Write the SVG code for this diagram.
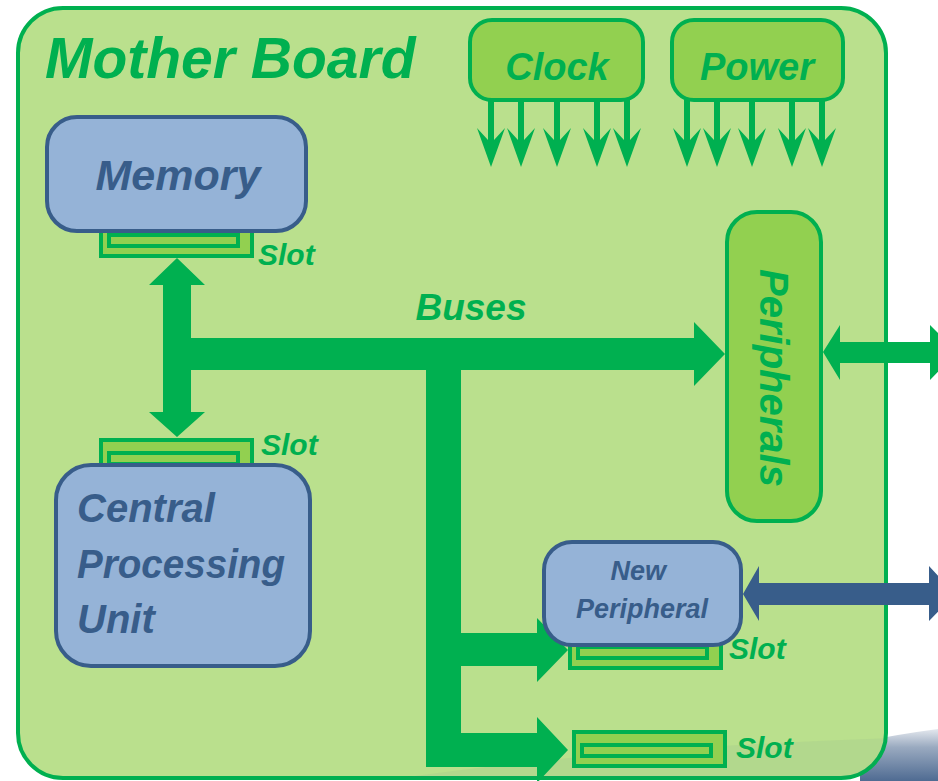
<svg xmlns="http://www.w3.org/2000/svg" width="938" height="781" viewBox="0 0 938 781">
  <defs>
    <style>
      .t { font-family: "Liberation Sans", Arial, sans-serif; font-weight: bold; font-style: italic; }
      .gtxt { fill: #00B050; }
      .btxt { fill: #385D8A; }
      .gbox { fill: #92D050; stroke: #00B050; stroke-width: 4; }
      .bbox { fill: #95B3D7; stroke: #385D8A; stroke-width: 4; }
      .slot { fill: #92D050; stroke: #00B050; stroke-width: 4; }
      .gcon { fill: #00B050; }
      .bcon { fill: #385D8A; }
    </style>
    <path id="dn" d="M0,167 L-14,128 L-3,140 L-3,100 L3,100 L3,140 L14,128 Z" fill="#00B050"/>
    <linearGradient id="shade" x1="0" y1="0" x2="0" y2="1">
      <stop offset="0" stop-color="#e4e8ee"/>
      <stop offset="0.35" stop-color="#9aaac0"/>
      <stop offset="1" stop-color="#4f6b92"/>
    </linearGradient>
    <clipPath id="boardclip">
      <rect x="18" y="8" width="868" height="770" rx="45" ry="45"/>
    </clipPath>
  </defs>

  <rect x="0" y="0" width="938" height="781" fill="#ffffff"/>
  <path d="M860,742 Q900,734 938,729 L938,781 L860,781 Z" fill="url(#shade)"/>

  <g id="motherboard">
    <rect x="18" y="8" width="868" height="770" rx="45" ry="45" fill="#BAE08D" stroke="#00B050" stroke-width="4"/>
    <path d="M380,781 Q600,748 890,738 L890,781 Z" fill="#5a7090" opacity="0.07" clip-path="url(#boardclip)"/>
    <text class="t gtxt" x="45" y="78" font-size="57">Mother Board</text>
  </g>

  <g id="connectors">
    <!-- memory <-> cpu -->
    <polygon class="gcon" points="177,258 205,285 191,285 191,412 205,412 177,437 149,412 163,412 163,285 149,285"/>
    <!-- main bus -->
    <polygon class="gcon" points="163,338 694,338 694,322 725,354 694,386 694,370 163,370"/>
    <rect class="gcon" x="426" y="338" width="35" height="429"/>
    <!-- branches -->
    <polygon class="gcon" points="461,633 537,633 537,618 568,650 537,682 537,666 461,666"/>
    <polygon class="gcon" points="461,733 537,733 537,717 568,750 537,783 537,767 461,767"/>
    <!-- peripherals external -->
    <polygon class="gcon" points="823,352 840,325 840,342 930,342 930,325 957,352 930,380 930,363 840,363 840,380"/>
    <!-- new peripheral external -->
    <polygon class="bcon" points="743,594 759,566 759,583 929,583 929,566 955,594 929,621 929,605 759,605 759,621"/>
    <!-- clock outputs -->
    <use href="#dn" x="491"/>
    <use href="#dn" x="521"/>
    <use href="#dn" x="557"/>
    <use href="#dn" x="597"/>
    <use href="#dn" x="627"/>
    <!-- power outputs -->
    <use href="#dn" x="687"/>
    <use href="#dn" x="717"/>
    <use href="#dn" x="752"/>
    <use href="#dn" x="792"/>
    <use href="#dn" x="822"/>
    <text class="t gtxt" x="471" y="320" font-size="37" text-anchor="middle">Buses</text>
  </g>

  <g id="clock">
    <rect class="gbox" x="470" y="20" width="173" height="80" rx="22" ry="22"/>
    <text class="t gtxt" x="557" y="80" font-size="38" text-anchor="middle">Clock</text>
  </g>

  <g id="power">
    <rect class="gbox" x="672" y="20" width="171" height="80" rx="22" ry="22"/>
    <text class="t gtxt" x="757" y="80" font-size="38" text-anchor="middle">Power</text>
  </g>

  <g id="memory-slot">
    <rect class="slot" x="101" y="222" width="151" height="34"/>
    <rect class="slot" x="109" y="235" width="129" height="11"/>
    <text class="t gtxt" x="258" y="265" font-size="30">Slot</text>
  </g>

  <g id="memory">
    <rect class="bbox" x="47" y="117" width="259" height="114" rx="30" ry="30"/>
    <text class="t btxt" x="178" y="190" font-size="43" text-anchor="middle">Memory</text>
  </g>

  <g id="cpu-slot">
    <rect class="slot" x="101" y="440" width="151" height="34"/>
    <rect class="slot" x="109" y="453" width="129" height="11"/>
    <text class="t gtxt" x="261" y="455" font-size="30">Slot</text>
  </g>

  <g id="cpu">
    <rect class="bbox" x="56" y="465" width="254" height="201" rx="35" ry="35"/>
    <text class="t btxt" font-size="40" x="77" y="522">Central</text>
    <text class="t btxt" font-size="40" x="77" y="578" textLength="208" lengthAdjust="spacingAndGlyphs">Processing</text>
    <text class="t btxt" font-size="40" x="77" y="633">Unit</text>
  </g>

  <g id="peripherals">
    <rect class="gbox" x="727" y="212" width="94" height="309" rx="30" ry="30"/>
    <text class="t gtxt" font-size="40" text-anchor="middle" transform="translate(760,378) rotate(90)">Peripherals</text>
  </g>

  <g id="new-peripheral-slot">
    <rect class="slot" x="570" y="634" width="151" height="34"/>
    <rect class="slot" x="578" y="647" width="129" height="11"/>
    <text class="t gtxt" x="729" y="659" font-size="30">Slot</text>
  </g>

  <g id="new-peripheral">
    <rect class="bbox" x="544" y="542" width="197" height="103" rx="28" ry="28"/>
    <text class="t btxt" font-size="27" text-anchor="middle">
      <tspan x="642" y="580">New</tspan>
      <tspan x="642" y="618">Peripheral</tspan>
    </text>
  </g>

  <g id="empty-slot">
    <rect class="slot" x="574" y="732" width="151" height="34"/>
    <rect class="slot" x="582" y="745" width="129" height="11"/>
    <text class="t gtxt" x="736" y="758" font-size="30">Slot</text>
  </g>
</svg>
